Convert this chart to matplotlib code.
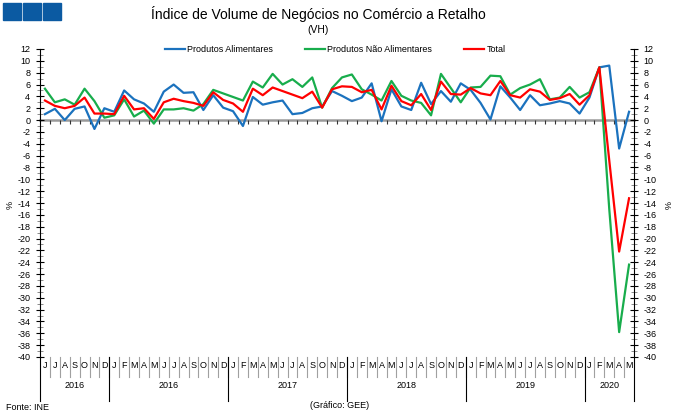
import numpy as np
import matplotlib
matplotlib.use("Agg")
import matplotlib.pyplot as plt
from matplotlib import font_manager
from matplotlib.patches import Rectangle
from matplotlib.lines import Line2D

# pick a narrow font if there is one
names = {f.name for f in font_manager.fontManager.ttflist}
FONT = "Liberation Sans Narrow" if "Liberation Sans Narrow" in names else "Liberation Sans"
plt.rcParams['font.family'] = [FONT, 'DejaVu Sans']
plt.rcParams['axes.unicode_minus'] = False

# Data (VH, %), Jun 2015 .. May 2020
months = list("JJASOND") + list("JFMAMJJASOND") * 4 + list("JFMAM")
year_labels = ["2016", "2016", "2017", "2018", "2019", "2020"]
year_sizes = [7, 12, 12, 12, 12, 5]

alimentares = [1.0, 1.9, 0.0, 1.9, 2.3, -1.5, 2.0, 1.4, 5.0, 3.5, 2.8, 1.4,
               4.8, 6.0, 4.6, 4.7, 1.7, 4.2, 2.1, 1.5, -1.0, 3.9, 2.6, 3.0,
               3.3, 1.0, 1.2, 2.0, 2.3, 4.9, 4.1, 3.2, 3.8, 6.2, -0.2, 5.2,
               2.3, 1.7, 6.3, 2.7, 4.9, 3.1, 6.2, 5.1, 2.9, 0.1, 5.7, 3.8,
               1.7, 4.2, 2.5, 2.8, 3.2, 2.8, 1.1, 3.8, 8.9, 9.2, -4.8, 1.4]
nao_alimentares = [5.3, 3.0, 3.5, 2.6, 5.3, 3.2, 0.4, 0.8, 3.5, 0.6, 1.6, -0.6,
                   1.8, 1.8, 2.0, 1.6, 2.7, 5.1, 4.5, 3.9, 3.3, 6.5, 5.5, 7.8,
                   6.0, 6.9, 5.6, 7.2, 2.1, 5.4, 7.2, 7.7, 5.2, 4.3, 3.3, 6.6,
                   4.1, 3.3, 2.9, 0.8, 7.8, 5.4, 3.0, 5.5, 5.6, 7.5, 7.4, 4.3,
                   5.4, 6.0, 6.9, 3.5, 3.8, 5.6, 3.8, 4.7, 8.9, -15.0, -35.8, -24.4]
total = [3.3, 2.4, 2.0, 2.4, 3.8, 1.1, 1.1, 1.0, 4.1, 1.8, 2.0, 0.2,
         3.0, 3.6, 3.2, 2.9, 2.4, 4.7, 3.4, 2.8, 1.4, 5.3, 4.2, 5.5,
         4.9, 4.3, 3.7, 4.8, 2.1, 5.2, 5.7, 5.6, 4.7, 5.1, 1.8, 5.8,
         3.2, 2.5, 4.4, 1.7, 6.5, 4.4, 4.3, 5.4, 4.5, 4.2, 6.6, 4.2,
         3.8, 5.2, 4.8, 3.4, 3.7, 4.4, 2.6, 4.2, 8.9, -6.8, -22.2, -13.2]

BLUE = "#1b72be"
GREEN = "#18ad4c"
RED = "#ff0000"

W, H = 680, 417
fig = plt.figure(figsize=(W / 100, H / 100), dpi=100)
ax = fig.add_axes([40 / W, 1 - 357 / H, (634 - 40) / W, (357 - 49) / H])

x = np.arange(len(months))
ax.plot(x, alimentares, color=BLUE, lw=1.6, label="Produtos Alimentares")
ax.plot(x, nao_alimentares, color=GREEN, lw=1.6, label="Produtos Não Alimentares")
ax.plot(x, total, color=RED, lw=1.6, label="Total")

ax.set_xlim(-0.5, len(months) - 0.5)
ax.set_ylim(-40, 12)

# zero line acts as category axis
ax.spines['top'].set_visible(False)
ax.spines['bottom'].set_position(('data', 0))
ax.spines['bottom'].set_color("#9a9a9a")
ax.spines['bottom'].set_linewidth(1.8)
ax.spines['bottom'].set_zorder(1)
ax.set_xticks(np.arange(0.5, len(months) - 1, 1))
ax.set_xticklabels([])
ax.tick_params(axis='x', direction='out', length=3, width=0.8, color="#333333")

ax.set_yticks(np.arange(-40, 13, 2))
ax.set_yticks(np.arange(-40, 13, 1), minor=True)
ax.tick_params(axis='y', which='major', direction='inout', length=6, width=0.8,
               left=True, right=True, labelleft=True, labelright=True,
               labelsize=6.5, pad=4)
ax.tick_params(axis='y', which='minor', direction='inout', length=4, width=0.6,
               left=True, right=True, color="#777777")
for s in ('left', 'right'):
    ax.spines[s].set_linewidth(0.8)

fig.text(10 / W, 1 - 205 / H, "%", rotation=90, fontsize=6.5, ha='center', va='center')
fig.text(666 / W, 1 - 205 / H, "%", rotation=-90, fontsize=6.5, ha='center', va='center')

# month / year labels under the plot
tr = ax.get_xaxis_transform()
ph = 357 - 49
for i, m in enumerate(months):
    ax.text(i, -(366 - 357) / ph, m, transform=tr, ha='center', va='center',
            fontsize=6.5, clip_on=False)
    if i > 0:
        ax.add_line(Line2D([i - 0.5, i - 0.5], [0, -(377 - 357) / ph], transform=tr,
                           color="#a0a0a0", lw=0.8, clip_on=False))
start = 0
for lab, n in zip(year_labels, year_sizes):
    ax.text(start + n / 2 - 0.5, -(386 - 357) / ph, lab, transform=tr,
            ha='center', va='center', fontsize=6.5, clip_on=False)
    ax.add_line(Line2D([start - 0.5, start - 0.5], [0, -(401 - 357) / ph], transform=tr,
                       color="black", lw=0.8, clip_on=False))
    start += n
ax.add_line(Line2D([start - 0.5, start - 0.5], [0, -(401 - 357) / ph], transform=tr,
                   color="black", lw=0.8, clip_on=False))

# titles, legend, notes
fig.text(318 / W, 1 - 14 / H, "Índice de Volume de Negócios no Comércio a Retalho",
         ha='center', va='center', fontsize=10)
fig.text(318 / W, 1 - 30 / H, "(VH)", ha='center', va='center', fontsize=7.5)
fig.legend(loc='center', bbox_to_anchor=(335 / W, 1 - 50 / H), ncol=3, frameon=False,
           fontsize=6.5, handlelength=2.2, columnspacing=3.5, handletextpad=0.3)
fig.text(6 / W, 1 - 407 / H, "Fonte: INE", ha='left', va='center', fontsize=6.5)
fig.text(340 / W, 1 - 405 / H, "(Gráfico: GEE)", ha='center', va='center', fontsize=6.5)

# logo squares
for k in range(3):
    fig.patches.append(Rectangle(((3 + k * 20) / W, 1 - 20 / H), 18 / W, 17 / H,
                                 transform=fig.transFigure, color="#0b5aa2"))

fig.savefig("out.png", dpi=100)
